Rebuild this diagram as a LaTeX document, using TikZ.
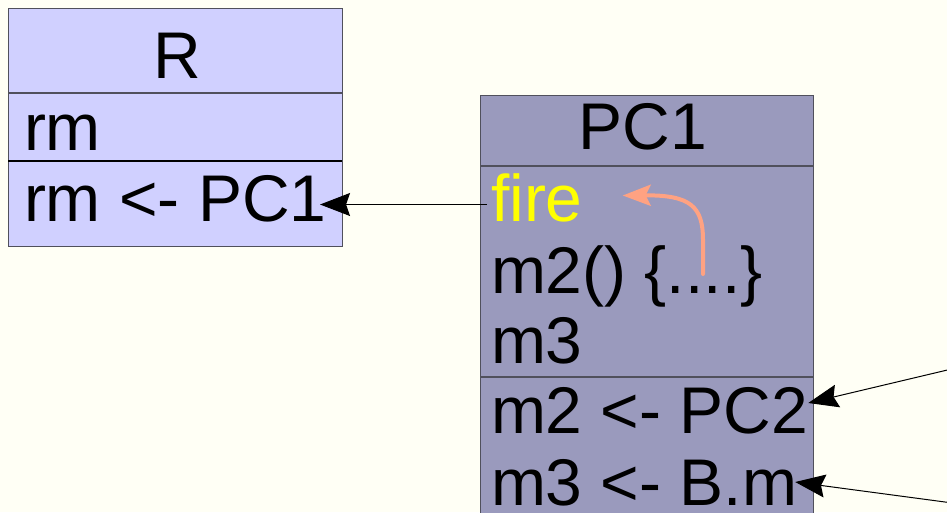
\documentclass[tikz,border=0pt]{standalone}
\usepackage{fontspec}
\setmainfont{Liberation Sans}
\usetikzlibrary{arrows.meta}

\definecolor{paper}{RGB}{255,255,245}
\definecolor{rfill}{RGB}{208,208,255}
\definecolor{pcfill}{RGB}{154,154,189}
\definecolor{callcol}{RGB}{255,162,130}
\definecolor{edgecol}{RGB}{80,80,92}
\definecolor{firecol}{RGB}{255,255,0}

\tikzset{
  classbox/.style={draw=edgecol, line width=1pt, inner sep=0pt, outer sep=0pt},
  divider/.style={draw=edgecol, line width=1.2pt},
  memb/.style={font=\fontsize{66}{66}\selectfont, inner sep=0pt, outer sep=0pt,
    anchor=base west, text height=47pt, text depth=14pt},
  title/.style={memb, anchor=base},
  conn/.style={draw=black, line width=1pt,
    -{Stealth[length=30pt, width=23pt, inset=4pt]}},
  callarrow/.style={draw=callcol, line width=4pt, line cap=round,
    -{Stealth[length=28pt, width=21pt, inset=5pt]}}
}

\begin{document}
\begin{tikzpicture}[x=1pt, y=-1pt]
  \clip (0,0) rectangle (947,512);
  \fill[paper] (0,0) rectangle (947,512);

  % class R
  \node[classbox, fill=rfill, minimum width=334pt, minimum height=238pt]
    (R) at (175,127) {};
  \draw[divider] (R.west |- 0,93) -- (R.east |- 0,93);
  \draw[divider, draw=black] (R.west |- 0,161) -- (R.east |- 0,161);
  \node[title] (rname) at (177,78) {R};
  \node[memb] (rm) at (24,150) {rm};
  \node[memb] (rmpc) at (24,221) {rm <- PC1};

  % class PC1 (runs on below the lower edge)
  \node[classbox, fill=pcfill, minimum width=333pt, minimum height=440pt]
    (PC) at (646.5,315) {};
  \draw[divider] (PC.west |- 0,166) -- (PC.east |- 0,166);
  \draw[divider] (PC.west |- 0,377) -- (PC.east |- 0,377);
  \node[title] (pcname) at (643,149) {PC1};
  \node[memb, text=firecol] (fire) at (491,221) {fire};
  \node[memb] (m2def) at (491,293) {m2() \{....\}};
  \node[memb] (m3) at (491,363) {m3};
  \node[memb] (m2pc) at (491,433) {m2 <- PC2};
  \node[memb] (m3bm) at (491,505) {m3 <- B.m};

  % incoming connectors from beyond the right edge
  \coordinate (fromPC2) at (960,367);
  \coordinate (fromB) at (960,504);
  \coordinate (callsrc) at (703,274);

  \draw[conn] ([xshift=-4pt]fire.west) -- ([shift={(-6.5,0)}]rmpc.east);
  \draw[conn] (fromPC2) -- ([shift={(0,-13.5)}]m2pc.east);
  \draw[conn] (fromB) -- ([shift={(-2,-6.5)}]m3bm.east);

  % call from the body of m2() back to fire
  \draw[callarrow] (callsrc) -- (703,240)
    .. controls (703,206) and (690,195) .. ([shift={(40,-9)}]fire.east);
\end{tikzpicture}
\end{document}
